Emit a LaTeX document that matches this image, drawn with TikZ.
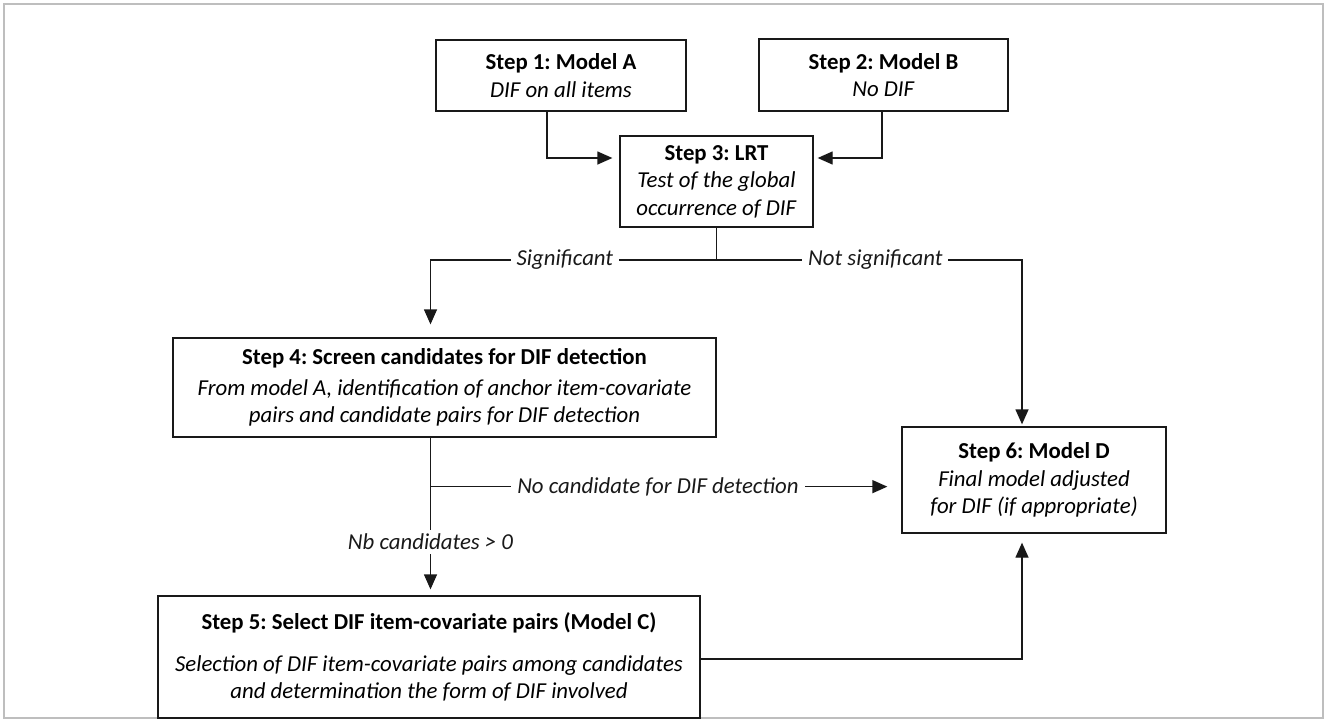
\documentclass[tikz,border=0pt]{standalone}
\usepackage{fontspec}
\setmainfont{Carlito}
\usetikzlibrary{arrows.meta,calc}
\definecolor{framegray}{RGB}{190,190,190}
\definecolor{ink}{RGB}{25,25,25}
\frenchspacing
\begin{document}
\begin{tikzpicture}[x=1pt,y=-1pt,
  box/.style={draw=ink, line width=1.3pt, align=center, inner sep=0pt,
    font=\fontsize{22.8}{27.5}\selectfont},
  conn/.style={draw=ink, line width=1.3pt},
  arr/.style={conn, -{Triangle[length=15pt,width=13pt]}},
  lab/.style={fill=white, inner sep=6pt, text=ink,
    font=\fontsize{22.8}{27.5}\selectfont\itshape}]
\useasboundingbox (0,0) rectangle (1328,720);
\fill[white] (0,0) rectangle (1328,720);
\draw[framegray, line width=2pt] (4,4) rectangle (1323,718);

\node[box, minimum width=250pt, minimum height=71pt] (s1) at (561,75.5)
  {\textbf{Step 1: Model A}\\\textit{DIF on all items}};
\node[box, minimum width=249pt, minimum height=72pt] (s2) at (883.5,75)
  {\textbf{Step 2: Model B}\\\textit{No DIF}};
\node[box, minimum width=193pt, minimum height=91pt] (s3) at (716.5,181.5)
  {\textbf{Step 3: LRT}\\\textit{Test of the global}\\\textit{occurrence of DIF}};
\node[box, minimum width=543pt, minimum height=99pt] (s4) at (444.5,387.5)
  {\textbf{Step 4: Screen candidates for DIF detection}\\[3pt]
   \textit{From model A, identification of anchor item-covariate}\\
   \textit{pairs and candidate pairs for DIF detection}};
\node[box, minimum width=264pt, minimum height=106pt] (s6) at (1034,480)
  {\textbf{Step 6: Model D}\\\textit{Final model adjusted}\\\textit{for DIF (if appropriate)}};
\node[box, minimum width=542pt, minimum height=122pt] (s5) at (429,657)
  {\textbf{Step 5: Select DIF item-covariate pairs (Model C)}\\[14pt]
   \textit{Selection of DIF item-covariate pairs among candidates}\\
   \textit{and determination the form of DIF involved}};

% Step 1 / Step 2 -> Step 3
\draw[arr, shorten >=7pt] ([xshift=-14pt]s1.south) |- ([yshift=23.5pt]s3.west);
\draw[arr, shorten >=4pt] ([xshift=-1.5pt]s2.south) |- ([yshift=23.5pt]s3.east);

% Step 3 -> branch
\coordinate (j1) at (716.5,260);
\draw[conn] (s3.south) -- (j1);
\draw[arr, shorten >=13pt] (j1) -| node[lab, pos=0.265] {Significant}
  ([xshift=-14pt]s4.north);
\draw[arr, shorten >=2pt] (j1) -| node[lab, pos=0.26] {Not significant}
  ([xshift=-12pt]s6.north);

% Step 4 -> Step 5 and Step 6
\coordinate (j2) at ($(s4.south)+(-14,49)$);
\draw[arr, shorten >=6pt] ([xshift=-14pt]s4.south) -- node[lab, pos=0.66, inner sep=4pt] {Nb candidates > 0}
  ([xshift=-14pt]s4.south |- s5.north);
\draw[arr, shorten >=14pt] (j2) -- node[lab, pos=0.483] {No candidate for DIF detection}
  (j2 -| s6.west);

% Step 5 -> Step 6
\draw[arr, shorten >=9pt] ([yshift=-2pt]s5.east) -| ([xshift=-12pt]s6.south);
\end{tikzpicture}
\end{document}
